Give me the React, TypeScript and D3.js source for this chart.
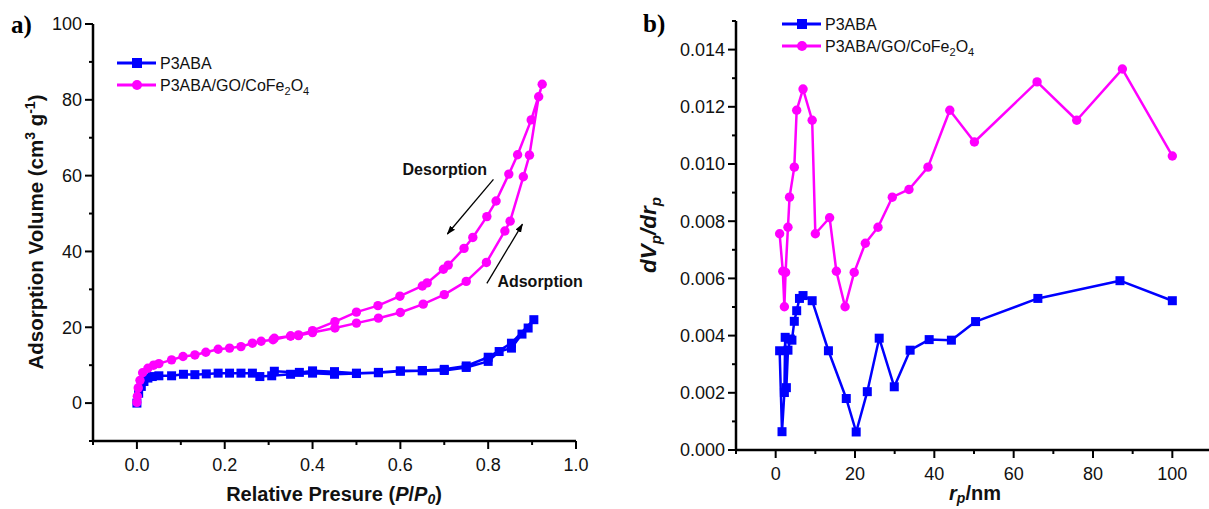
import React from 'react';
import * as d3 from 'd3';

// ---- panel a) N2 isotherms ----
const p3abaIsoX = [0, 0.004, 0.01, 0.016, 0.025, 0.035, 0.05, 0.079, 0.106, 0.132, 0.158, 0.185, 0.211, 0.237, 0.263, 0.28, 0.307, 0.35, 0.4, 0.45, 0.5, 0.55, 0.6, 0.65, 0.7, 0.75, 0.8, 0.825, 0.853, 0.877, 0.891, 0.904,
  0.853, 0.8, 0.75, 0.7, 0.65, 0.6, 0.55, 0.5, 0.45, 0.4, 0.37, 0.313];
const p3abaIsoY = [0, 2.6, 4.4, 5.7, 6.6, 7.0, 7.2, 7.2, 7.6, 7.5, 7.7, 7.9, 7.9, 7.9, 7.9, 7.0, 7.2, 7.6, 7.9, 7.6, 7.8, 8.0, 8.4, 8.5, 8.6, 9.4, 11.0, 13.6, 14.5, 18.2, 19.8, 22.0,
  15.8, 12.1, 9.8, 8.9, 8.6, 8.5, 8.1, 7.9, 8.3, 8.5, 8.1, 8.4];

const compAdsX = [0, 0.001, 0.003, 0.007, 0.013, 0.025, 0.038, 0.05, 0.079, 0.105, 0.132, 0.157, 0.185, 0.211, 0.237, 0.263, 0.283, 0.31, 0.35, 0.368, 0.4, 0.451, 0.5, 0.55, 0.6, 0.652, 0.7, 0.75, 0.796, 0.838, 0.85, 0.88, 0.894, 0.915, 0.923];
const compAdsY = [0.2, 1.8, 4, 6, 8, 9.2, 10, 10.4, 11.4, 12.3, 12.7, 13.4, 14.2, 14.5, 14.9, 15.8, 16.3, 16.7, 17.7, 17.8, 18.6, 19.8, 21.1, 22.4, 23.9, 26.1, 28.6, 32.1, 37.1, 45.4, 48.0, 59.7, 65.4, 80.8, 84.1];
const compDesX = [0.898, 0.867, 0.847, 0.818, 0.797, 0.765, 0.745, 0.709, 0.698, 0.661, 0.65, 0.599, 0.549, 0.5, 0.451, 0.4, 0.368, 0.35, 0.313];
const compDesY = [74.7, 65.5, 60.4, 53.3, 49.2, 43.7, 40.8, 36.4, 35.3, 31.7, 30.9, 28.2, 25.7, 24.0, 21.5, 19.1, 18.0, 17.7, 17.1];

// ---- panel b) pore size distribution ----
const p3abaPoreX = [1.0, 1.6, 2.2, 2.4, 2.7, 3.1, 3.7, 4.1, 4.7, 5.3, 6.0, 6.9, 9.2, 13.3, 17.8, 20.3, 23.1, 26.1, 29.9, 33.9, 38.7, 44.3, 50.4, 66.1, 86.8, 100];
const p3abaPoreY = [3.47, 0.64, 2.01, 3.94, 2.18, 3.49, 3.88, 3.84, 4.50, 4.87, 5.30, 5.40, 5.22, 3.47, 1.80, 0.63, 2.04, 3.91, 2.21, 3.49, 3.86, 3.84, 4.49, 5.30, 5.92, 5.22].map(v => v / 1000);
const compPoreX = [1.0, 1.8, 2.2, 2.5, 3.1, 3.5, 4.7, 5.3, 6.9, 9.2, 10.0, 13.6, 15.3, 17.5, 19.8, 22.6, 25.8, 29.4, 33.6, 38.4, 43.9, 50.1, 65.9, 75.9, 87.4, 100];
const compPoreY = [7.56, 6.25, 5.01, 6.21, 7.79, 8.84, 9.89, 11.88, 12.62, 11.53, 7.56, 8.12, 6.25, 5.01, 6.21, 7.23, 7.79, 8.84, 9.11, 9.89, 11.88, 10.77, 12.87, 11.53, 13.32, 10.28].map(v => v / 1000);

const isoXTicks = [0, 0.2, 0.4, 0.6, 0.8, 1.0];
const isoXMinor = [-0.1, 0.1, 0.3, 0.5, 0.7, 0.9];
const isoYTicks = [0, 20, 40, 60, 80, 100];
const isoYMinor = [-10, 10, 30, 50, 70, 90];
const poreXTicks = [0, 20, 40, 60, 80, 100];
const poreXMinor = [-10, 10, 30, 50, 70, 90, 110];
const poreYTicks = [0, 0.002, 0.004, 0.006, 0.008, 0.01, 0.012, 0.014];
const poreYMinor = [0.001, 0.003, 0.005, 0.007, 0.009, 0.011, 0.013, 0.015];

// arrow annotations in data units: [x1, y1, x2, y2]
const desorptionArrow = [0.812, 59.0, 0.707, 44.6];
const adsorptionArrow = [0.797, 31.6, 0.878, 47.2];

const BLUE = '#0000ff';
const PINK = '#ff00ff';
const SANS = '"Liberation Sans", Arial, sans-serif';

const zip = (xs: number[], ys: number[]) => xs.map((x, i) => [x, ys[i]] as [number, number]);

function Series({ pts, x, y, color, shape }: any) {
  const line = d3.line<[number, number]>().x(d => x(d[0])).y(d => y(d[1]));
  return (
    <g>
      <path d={line(pts) || ''} fill="none" stroke={color} strokeWidth={2.5} strokeLinejoin="round" />
      {pts.map((d: [number, number], i: number) =>
        shape === 'square'
          ? <rect key={i} x={x(d[0]) - 4.5} y={y(d[1]) - 4.5} width={9} height={9} fill={color} />
          : <circle key={i} cx={x(d[0])} cy={y(d[1])} r={4.7} fill={color} />
      )}
    </g>
  );
}

function Axes({ x, y, xTicks, xMinor, yTicks, yMinor, xFmt, yFmt, xEnd }: any) {
  const [y0, y1] = y.range();
  const x0 = x.range()[0];
  const xe = xEnd ?? x.range()[1];
  return (
    <g stroke="#000" fontFamily={SANS} fontSize={18}>
      <line x1={x0} x2={x0} y1={y0 + 1} y2={y1} strokeWidth={2.5} />
      <line x1={x0 - 1} x2={xe} y1={y0} y2={y0} strokeWidth={2.5} />
      {yTicks.map((t: number) => (
        <g key={'y' + t}>
          <line x1={x0 - 8} x2={x0} y1={y(t)} y2={y(t)} strokeWidth={2} />
          <text x={x0 - 11} y={y(t)} dy="0.35em" textAnchor="end" stroke="none" fill="#111">{yFmt(t)}</text>
        </g>
      ))}
      {yMinor.map((t: number) => <line key={'ym' + t} x1={x0 - 4} x2={x0} y1={y(t)} y2={y(t)} strokeWidth={2} />)}
      {xTicks.map((t: number) => (
        <g key={'x' + t}>
          <line x1={x(t)} x2={x(t)} y1={y0} y2={y0 + 8} strokeWidth={2} />
          <text x={x(t)} y={y0 + 30} textAnchor="middle" stroke="none" fill="#111">{xFmt(t)}</text>
        </g>
      ))}
      {xMinor.map((t: number) => <line key={'xm' + t} x1={x(t)} x2={x(t)} y1={y0} y2={y0 + 4} strokeWidth={2} />)}
    </g>
  );
}

function Legend({ x, y }: { x: number; y: number }) {
  return (
    <g fontFamily={SANS} fontSize={16} fill="#111">
      <line x1={x} x2={x + 39} y1={y} y2={y} stroke={BLUE} strokeWidth={3} />
      <rect x={x + 15} y={y - 5} width={10} height={10} fill={BLUE} />
      <text x={x + 43} y={y} dy="0.36em">P3ABA</text>
      <line x1={x} x2={x + 39} y1={y + 22} y2={y + 22} stroke={PINK} strokeWidth={3} />
      <circle cx={x + 20} cy={y + 22} r={5} fill={PINK} />
      <text x={x + 43} y={y + 22} dy="0.36em">
        P3ABA/GO/CoFe<tspan fontSize={11} dy={4}>2</tspan><tspan dy={-4}>O</tspan><tspan fontSize={11} dy={4}>4</tspan>
      </text>
    </g>
  );
}

export default function App() {
  const xA = d3.scaleLinear().domain([-0.1, 1.0]).range([93, 576]);
  const yA = d3.scaleLinear().domain([-10, 100]).range([441, 24]);
  const xB = d3.scaleLinear().domain([-10, 110]).range([736, 1212]);
  const yB = d3.scaleLinear().domain([0, 0.015]).range([450, 21]);

  const compIso = zip(compAdsX.concat(compDesX), compAdsY.concat(compDesY));

  return (
    <svg width={1209} height={509} style={{ position: 'absolute', left: 0, top: 0, background: '#fff' }}>
      <defs>
        <marker id="head" viewBox="0 0 10 10" refX="9" refY="5" markerWidth="9" markerHeight="9" orient="auto" markerUnits="userSpaceOnUse">
          <path d="M0,1.5 L10,5 L0,8.5 Z" fill="#000" />
        </marker>
      </defs>

      {/* panel a */}
      <text x={11} y={33} fontFamily='"Liberation Serif", "Times New Roman", serif' fontWeight="bold" fontSize={25}>a)</text>
      <Axes x={xA} y={yA} xTicks={isoXTicks} xMinor={isoXMinor} yTicks={isoYTicks} yMinor={isoYMinor}
        xFmt={d3.format('.1f')} yFmt={d3.format('d')} />
      <Series pts={zip(p3abaIsoX, p3abaIsoY)} x={xA} y={yA} color={BLUE} shape="square" />
      <Series pts={compIso} x={xA} y={yA} color={PINK} shape="circle" />
      <Legend x={117} y={63} />
      <g stroke="#000" strokeWidth={1.3}>
        <line x1={xA(desorptionArrow[0])} y1={yA(desorptionArrow[1])} x2={xA(desorptionArrow[2])} y2={yA(desorptionArrow[3])} markerEnd="url(#head)" />
        <line x1={xA(adsorptionArrow[0])} y1={yA(adsorptionArrow[1])} x2={xA(adsorptionArrow[2])} y2={yA(adsorptionArrow[3])} markerEnd="url(#head)" />
      </g>
      <g fontFamily={SANS} fontWeight="bold" fontSize={16} fill="#111">
        <text x={xA(0.605)} y={yA(60.2)}>Desorption</text>
        <text x={xA(0.821)} y={yA(30.5)}>Adsorption</text>
      </g>
      <text x={334} y={501} textAnchor="middle" fontFamily={SANS} fontWeight="bold" fontSize={20} fill="#111">
        Relative Presure (<tspan fontStyle="italic">P</tspan>/<tspan fontStyle="italic">P</tspan><tspan fontStyle="italic" fontSize={14} dy={3}>0</tspan><tspan dy={-3}>)</tspan>
      </text>
      <text transform="translate(43,232) rotate(-90)" textAnchor="middle" fontFamily={SANS} fontWeight="bold" fontSize={20.5} fill="#111">
        Adsorption Volume (cm<tspan fontSize={14} dy={-8}>3</tspan><tspan dy={8}> g</tspan><tspan fontSize={14} dy={-8}>-1</tspan><tspan dy={8}>)</tspan>
      </text>

      {/* panel b */}
      <text x={643} y={32} fontFamily='"Liberation Serif", "Times New Roman", serif' fontWeight="bold" fontSize={25}>b)</text>
      <Axes x={xB} y={yB} xTicks={poreXTicks} xMinor={poreXMinor} yTicks={poreYTicks} yMinor={poreYMinor}
        xFmt={d3.format('d')} yFmt={d3.format('.3f')} xEnd={1209} />
      <Series pts={zip(p3abaPoreX, p3abaPoreY)} x={xB} y={yB} color={BLUE} shape="square" />
      <Series pts={zip(compPoreX, compPoreY)} x={xB} y={yB} color={PINK} shape="circle" />
      <Legend x={782} y={24} />
      <text x={975} y={500} textAnchor="middle" fontFamily={SANS} fontWeight="bold" fontSize={20} fill="#111">
        <tspan fontStyle="italic">r</tspan><tspan fontStyle="italic" fontSize={14} dy={3}>p</tspan><tspan dy={-3}>/nm</tspan>
      </text>
      <text transform="translate(656,235) rotate(-90)" textAnchor="middle" fontFamily={SANS} fontWeight="bold" fontStyle="italic" fontSize={22.5} fill="#111">
        dV<tspan fontSize={15} dy={5}>p</tspan><tspan dy={-5}>/dr</tspan><tspan fontSize={15} dy={5}>p</tspan>
      </text>
    </svg>
  );
}
